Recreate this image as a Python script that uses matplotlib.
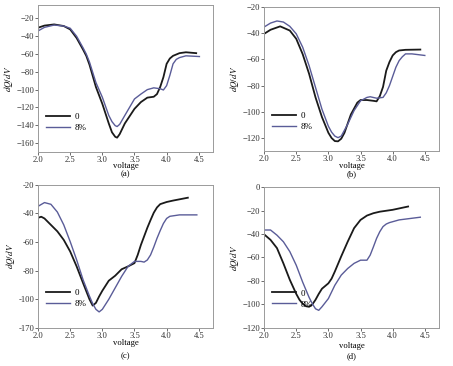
"""dQ/dV curves vs. voltage for 0 and 8% samples, four panels."""
import matplotlib

matplotlib.use("Agg")
from matplotlib import pyplot as plt
from matplotlib import rcParams

rcParams["font.family"] = ["Liberation Serif", "DejaVu Serif"]
rcParams["font.size"] = 6
rcParams["mathtext.fontset"] = "stix"

BLACK = "#1a1a1a"
BLUE = "#5a5c98"
FRAME = "#9a9a9a"
LABELS = ["0", "8%"]

# panel (a)
a0_v = [2.0, 2.1, 2.25, 2.4, 2.5, 2.6, 2.7, 2.75, 2.8, 2.9, 3.0, 3.1, 3.15, 3.2,
        3.23, 3.27, 3.35, 3.5, 3.6, 3.7, 3.8, 3.85, 3.9, 3.95, 4.0, 4.05, 4.1,
        4.2, 4.3, 4.46]
a0_q = [-30.4, -28.0, -26.7, -28.5, -32.3, -42.0, -55.0, -62.0, -72.0, -97.0,
        -116.0, -138.0, -148.0, -153.0, -154.0, -150.0, -138.0, -121.6, -114.0,
        -109.0, -108.0, -105.0, -97.0, -86.0, -71.0, -65.0, -62.0, -59.0, -58.0,
        -59.0]
a8_v = [2.0, 2.1, 2.25, 2.4, 2.5, 2.6, 2.7, 2.75, 2.8, 2.9, 3.0, 3.1, 3.15, 3.2,
        3.23, 3.27, 3.35, 3.5, 3.6, 3.7, 3.8, 3.9, 3.95, 4.0, 4.05, 4.1, 4.15,
        4.2, 4.3, 4.51]
a8_q = [-34.0, -30.0, -27.4, -28.5, -31.0, -40.0, -53.0, -60.0, -69.0, -92.0,
        -108.6, -129.0, -136.0, -140.5, -141.5, -139.0, -129.0, -110.5, -105.0,
        -100.0, -98.0, -99.0, -100.4, -95.5, -84.0, -71.0, -66.0, -64.0, -62.0,
        -62.8]

# panel (b)
b0_v = [2.0, 2.1, 2.25, 2.4, 2.5, 2.6, 2.7, 2.8, 2.9, 3.0, 3.05, 3.1, 3.15, 3.2,
        3.25, 3.35, 3.45, 3.5, 3.6, 3.7, 3.75, 3.8, 3.85, 3.9, 3.95, 4.0, 4.05,
        4.1, 4.2, 4.43]
b0_q = [-40.5, -37.4, -34.8, -38.0, -44.3, -56.0, -71.0, -89.0, -104.0, -116.0,
        -120.0, -122.3, -122.5, -120.5, -116.0, -102.0, -93.0, -91.0, -91.0,
        -91.6, -92.0, -88.0, -81.0, -68.6, -62.0, -57.0, -54.5, -53.2, -52.7,
        -52.5]
b8_v = [2.0, 2.1, 2.2, 2.3, 2.4, 2.5, 2.6, 2.7, 2.8, 2.9, 3.0, 3.05, 3.1, 3.15,
        3.2, 3.3, 3.4, 3.5, 3.6, 3.65, 3.75, 3.85, 3.9, 3.95, 4.0, 4.05, 4.1,
        4.15, 4.2, 4.3, 4.5]
b8_q = [-35.3, -32.3, -30.7, -31.5, -34.8, -40.5, -50.7, -64.8, -81.4, -98.0,
        -111.0, -115.5, -118.5, -119.7, -118.5, -109.5, -99.0, -91.6, -89.0,
        -88.5, -89.6, -89.0, -85.5, -80.0, -73.0, -66.0, -61.0, -58.0, -55.8,
        -55.8, -57.0]

# panel (c)
c0_v = [2.0, 2.05, 2.1, 2.2, 2.3, 2.4, 2.5, 2.6, 2.7, 2.8, 2.85, 2.9, 2.95, 3.0,
        3.1, 3.2, 3.3, 3.4, 3.5, 3.55, 3.6, 3.65, 3.7, 3.75, 3.8, 3.85, 3.9,
        4.0, 4.1, 4.33]
c0_q = [-43.0, -42.3, -43.5, -48.0, -52.5, -58.5, -66.6, -77.0, -88.6, -100.0,
        -104.4, -102.5, -98.0, -94.0, -87.0, -83.5, -79.0, -77.0, -74.7, -69.0,
        -62.0, -56.0, -50.0, -44.6, -39.5, -35.8, -33.5, -32.0, -31.0, -29.0]
c8_v = [2.0, 2.1, 2.2, 2.3, 2.4, 2.5, 2.6, 2.7, 2.8, 2.85, 2.9, 2.95, 3.0, 3.1,
        3.2, 3.3, 3.4, 3.5, 3.6, 3.65, 3.7, 3.75, 3.8, 3.85, 3.9, 3.95, 4.0,
        4.05, 4.2, 4.47]
c8_q = [-35.0, -32.4, -33.6, -39.0, -48.0, -59.7, -72.4, -86.3, -97.8, -103.0,
        -107.0, -108.8, -107.0, -100.0, -92.0, -84.0, -77.0, -73.5, -73.5, -74.0,
        -72.5, -69.0, -63.5, -57.4, -52.0, -47.0, -43.5, -42.0, -41.0, -41.0]

# panel (d)
d0_v = [2.0, 2.1, 2.2, 2.3, 2.4, 2.5, 2.55, 2.6, 2.65, 2.7, 2.75, 2.8, 2.85, 2.9,
        3.0, 3.05, 3.1, 3.2, 3.3, 3.4, 3.5, 3.6, 3.7, 3.8, 4.0, 4.24]
d0_q = [-40.3, -45.0, -52.0, -65.0, -79.0, -91.0, -96.0, -99.4, -101.5, -102.0,
        -100.0, -96.0, -91.0, -86.6, -82.0, -78.0, -72.0, -59.0, -46.6, -35.0,
        -28.0, -24.3, -22.3, -21.0, -19.4, -16.6]
d8_v = [2.0, 2.1, 2.2, 2.3, 2.4, 2.5, 2.6, 2.7, 2.75, 2.8, 2.85, 2.9, 2.95, 3.0,
        3.1, 3.2, 3.3, 3.4, 3.5, 3.6, 3.65, 3.7, 3.75, 3.8, 3.85, 3.9, 3.95, 4.1,
        4.43]
d8_q = [-36.6, -36.6, -41.0, -46.6, -55.0, -66.6, -81.0, -94.0, -99.4, -103.7,
        -105.0, -102.0, -98.5, -95.0, -83.7, -75.0, -69.4, -65.0, -62.3, -62.3,
        -58.0, -51.0, -43.7, -38.0, -33.7, -31.5, -30.3, -28.0, -25.7]

panels = [
    ("(a)", a0_v, a0_q, a8_v, a8_q, (-170, -5), [-20, -40, -60, -80, -100, -120, -140, -160], None),
    ("(b)", b0_v, b0_q, b8_v, b8_q, (-130, -20), [-20, -40, -60, -80, -100, -120], None),
    ("(c)", c0_v, c0_q, c8_v, c8_q, (-120, -20), [-20, -40, -60, -80, -100, -120],
     ["-20", "-40", "-60", "-80", "-100", "-170"]),
    ("(d)", d0_v, d0_q, d8_v, d8_q, (-120, 0), [0, -20, -40, -60, -80, -100, -120], None),
]
# axes boxes in figure fraction [left, bottom, width, height]
boxes = [
    [0.084, 0.585, 0.386, 0.401],
    [0.583, 0.587, 0.386, 0.394],
    [0.084, 0.104, 0.386, 0.391],
    [0.583, 0.104, 0.386, 0.385],
]
# pixel distance below each axes for the "voltage" label and the panel tag
xlabel_px = [14.5, 14.5, 15, 18]
tag_px = [22.5, 23, 28, 28]

fig = plt.figure(figsize=(4.53, 3.66), dpi=100)
for box, (tag, v0, q0, v8, q8, ylim, yticks, yticklabels), xl_px, tg_px in zip(
    boxes, panels, xlabel_px, tag_px
):
    ax = fig.add_axes(box)
    ax.plot(v0, q0, color=BLACK, lw=1.3, label=LABELS[0], solid_joinstyle="round")
    ax.plot(v8, q8, color=BLUE, lw=1.0, label=LABELS[1], solid_joinstyle="round")
    ax.set_xlim(2.0, 4.72)
    ax.set_ylim(*ylim)
    ax.set_xticks([2.0, 2.5, 3.0, 3.5, 4.0, 4.5])
    ax.set_yticks(yticks)
    if yticklabels:
        ax.set_yticklabels(yticklabels)
    ax.tick_params(length=2, width=0.5, pad=0.6, colors="#333333", labelsize=6.2)
    for s in ax.spines.values():
        s.set_color(FRAME)
        s.set_linewidth(0.7)
    h_px = box[3] * 366
    ax.set_xlabel("voltage", fontsize=6.2)
    ax.xaxis.set_label_coords(0.5, -xl_px / h_px)
    ax.xaxis.label.set_va("center")
    ax.set_ylabel(r"$dQ/dV$", labelpad=1, fontsize=6.5)
    ax.text(0.5, -tg_px / h_px, tag, transform=ax.transAxes, ha="center",
            va="center", fontsize=6.2)
    ax.legend(loc="lower left", bbox_to_anchor=(0.0, 0.08), frameon=False,
              handlelength=2.6, handletextpad=0.5, labelspacing=0.3, fontsize=6.5)

fig.savefig("out.png", dpi=100, facecolor="white")
